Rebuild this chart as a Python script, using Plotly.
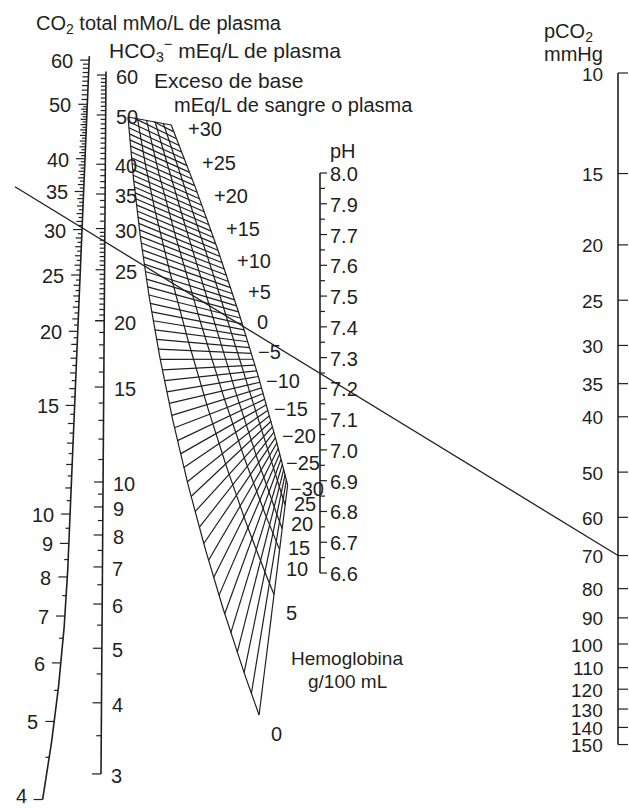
import numpy as np
import plotly.graph_objects as go

# ---------------- data ----------------
co2_total_labels = [60, 50, 40, 35, 30, 25, 20, 15, 10, 9, 8, 7, 6, 5, 4]
hco3_labels = [60, 50, 40, 35, 30, 25, 20, 15, 10, 9, 8, 7, 6, 5, 4, 3]
ph_labels = ["8.0", "7.9", "7.7", "7.6", "7.5", "7.4", "7.3", "7.2", "7.1",
             "7.0", "6.9", "6.8", "6.7", "6.6"]
pco2_labels = [10, 15, 20, 25, 30, 35, 40, 50, 60, 70, 80, 90, 100, 110,
               120, 130, 140, 150]
be_labels = [30, 25, 20, 15, 10, 5, 0, -5, -10, -15, -20, -25, -30]
be_lines = list(range(30, -31, -1))
hb_labels = [0, 5, 10, 15, 20, 25]
sample_pco2 = 70      # mmHg
sample_hco3 = 28.3    # mEq/L

# ---------------- nomogram scales (value -> page position) ----------------
def y_co2(v):
    return 1020.4 - 543.3 * np.log10(v - 1.45)

def x_co2(y):
    return 90 - 0.042 * (y - 40) - 2.7e-4 * np.maximum(0, y - 560) ** 2

def y_hco3(v):
    L = np.log10(v)
    return 1053.2 - 598.3 * L + 27.1 * L ** 2

def x_hco3(y):
    return 106 - 5 * (y - 70) / 704

PCO2_X = 618
def y_pco2(v):
    return 73 + (np.log10(v) - 1) * 571

PH_X = 320
def y_ph(i):
    return 173 + i * 30.77

# base-excess grid: right boundary (Hb 25) and left boundary (Hb 0)
def yR(b):
    return 305 - 6.0 * b - 0.0144 * (b * b - 900)

def xR(y):
    return 170 + 0.401 * (y - 122) - 2.12e-4 * (y - 122) ** 2

def yL(b):
    p = (30 - b) / 60
    return 102 + 401.5 * p - 273.5 * p ** 2 + 485 * p ** 3

def xL(y):
    return 128 + 0.0745 * (y - 117) + 2.42e-4 * (y - 117) ** 2

hb_frac_top = {0: 0, 5: 0.2, 10: 0.4, 15: 0.6, 20: 0.8, 25: 1.0}
hb_frac_bot = {0: 0, 5: 0.524, 10: 0.719, 15: 0.810, 20: 0.913, 25: 1.0}

def hb_frac(h, b):
    w = ((30 - b) / 60) ** 1.5
    return hb_frac_top[h] + (hb_frac_bot[h] - hb_frac_top[h]) * w

def grid_pt(h, b):
    ly = yL(b); lx = xL(ly)
    ry = yR(b); rx = xR(ry)
    t = hb_frac(h, b)
    return lx + t * (rx - lx), ly + t * (ry - ly)

TL = (xL(117.0), 117.0)
TR = (xR(yR(30)), yR(30))

def f_top(x, y):
    return y - (TL[1] + (x - TL[0]) * (TR[1] - TL[1]) / (TR[0] - TL[0]))

def clip(xs, ys):
    ox, oy = [], []
    n = len(xs)
    for i in range(n):
        fi = f_top(xs[i], ys[i])
        if i > 0:
            fp = f_top(xs[i - 1], ys[i - 1])
            if (fp < 0) != (fi < 0):
                t = fp / (fp - fi)
                ox.append(xs[i - 1] + t * (xs[i] - xs[i - 1]))
                oy.append(ys[i - 1] + t * (ys[i] - ys[i - 1]))
        if fi >= 0:
            ox.append(xs[i]); oy.append(ys[i])
    return ox, oy

# ---------------- build line geometry ----------------
thin_x, thin_y = [], []
axis_x, axis_y = [], []

def add(lst_x, lst_y, xs, ys):
    lst_x.extend(list(xs) + [None])
    lst_y.extend(list(ys) + [None])

# CO2 total (curved scale)
vv = np.geomspace(4, 61, 300)
yy = y_co2(vv)
add(axis_x, axis_y, x_co2(yy), yy)
co2_minor = [v for v in np.arange(4, 60.01, 0.5) if (v <= 50 or v == int(v))]
for v in co2_minor:
    y = y_co2(v); x = x_co2(y)
    if v in co2_total_labels:
        ln = 9
    elif v == int(v):
        ln = 6
    else:
        ln = 4
    add(thin_x, thin_y, [x - ln, x], [y, y])

# HCO3 (straight scale)
y_top, y_bot = y_hco3(61), y_hco3(3)
add(axis_x, axis_y, [x_hco3(y_top), x_hco3(y_bot)], [y_top, y_bot])
hco3_minor = ([v for v in np.arange(3, 10, 0.5)] + list(range(10, 21))
              + [v for v in np.arange(20, 30, 0.5)] + list(range(30, 61)))
for v in hco3_minor:
    y = y_hco3(v); x = x_hco3(y)
    ln = 9 if v in hco3_labels else 5
    add(thin_x, thin_y, [x - ln, x], [y, y])

# pH scale
add(axis_x, axis_y, [PH_X, PH_X], [y_ph(0), y_ph(len(ph_labels) - 1)])
for i in range(len(ph_labels)):
    add(thin_x, thin_y, [PH_X, PH_X + 7], [y_ph(i), y_ph(i)])
    if i < len(ph_labels) - 1:
        add(thin_x, thin_y, [PH_X, PH_X + 5], [y_ph(i + 0.5), y_ph(i + 0.5)])

# pCO2 scale
add(axis_x, axis_y, [PCO2_X, PCO2_X], [y_pco2(10), y_pco2(150)])
for v in pco2_labels:
    add(thin_x, thin_y, [PCO2_X, PCO2_X + 10], [y_pco2(v), y_pco2(v)])

# base-excess lines
for b in be_lines:
    ly = yL(b); ry = yR(b)
    xs, ys = clip([xL(ly), xR(ry)], [ly, ry])
    add(thin_x, thin_y, xs, ys)
# haemoglobin curves
bb = np.linspace(30, -30, 121)
for h in hb_labels:
    pts = [grid_pt(h, b) for b in bb]
    xs, ys = clip([p[0] for p in pts], [p[1] for p in pts])
    add(thin_x, thin_y, xs, ys)
# top edge
add(thin_x, thin_y, [TL[0], TR[0]], [TL[1], TR[1]])

# sample alignment line: pCO2 -> HCO3 and beyond
p1 = (PCO2_X, y_pco2(sample_pco2))
yh = y_hco3(sample_hco3)
p2 = (x_hco3(yh), yh)
slope = (p1[1] - p2[1]) / (p1[0] - p2[0])
x_start = 15
sample_x = [x_start, p1[0]]
sample_y = [p2[1] + (x_start - p2[0]) * slope, p1[1]]

fig = go.Figure()
fig.add_trace(go.Scatter(x=thin_x, y=thin_y, mode="lines",
                         line=dict(color="#231f20", width=1.2),
                         hoverinfo="skip", showlegend=False))
fig.add_trace(go.Scatter(x=axis_x, y=axis_y, mode="lines",
                         line=dict(color="#231f20", width=1.6),
                         hoverinfo="skip", showlegend=False))
fig.add_trace(go.Scatter(x=sample_x, y=sample_y, mode="lines",
                         line=dict(color="#231f20", width=1.3),
                         hoverinfo="skip", showlegend=False))

FONT = dict(family="Liberation Sans, Arial, sans-serif", size=20, color="#231f20")
ann = []

def txt(x, y, s, xa="left", ya="middle", size=None):
    f = dict(FONT)
    if size:
        f["size"] = size
    ann.append(dict(x=x, y=y, text=s, xref="x", yref="y", showarrow=False,
                    xanchor=xa, yanchor=ya, font=f))

for v in co2_total_labels:
    y = y_co2(v)
    txt(x_co2(y) - 14, min(y + 1, 796), str(v), xa="right")
for v in hco3_labels:
    y = y_hco3(v)
    txt(x_hco3(y) + 8, y + 2, str(v), xa="left")
for i, s in enumerate(ph_labels):
    txt(PH_X + 8, y_ph(i) + 1, s, xa="left")
for v in pco2_labels:
    txt(PCO2_X - 13, y_pco2(v) + 1, str(v), xa="right", size=19)
for b in be_labels:
    ry = yR(b); rx = xR(ry)
    dx = 15 if b >= 0 else min(6, (b + 30) * 0.6)
    s = ("+%d" % b) if b > 0 else ("0" if b == 0 else "\u2212%d" % (-b))
    txt(rx + dx, ry + 4, s, xa="left")
for h in hb_labels:
    x, y = grid_pt(h, -30)
    txt(x + 17, y + 19, str(h), xa="center")

txt(34, 24, "CO<sub>2</sub> total mMo/L de plasma")
txt(107, 50, "HCO<sub>3</sub><sup>\u2212</sup> mEq/L de plasma", size=21)
txt(152, 80, "Exceso de base", size=21)
txt(172, 105, "mEq/L de sangre o plasma")
txt(328, 151, "pH")
txt(542, 32, "pCO<sub>2</sub>")
txt(605, 54, "mmHg", xa="right")
txt(347, 658, "Hemoglobina", xa="center", size=19)
txt(347, 681, "g/100 mL", xa="center", size=19)

fig.update_layout(
    width=629, height=808, margin=dict(l=0, r=0, t=0, b=0),
    paper_bgcolor="white", plot_bgcolor="white",
    xaxis=dict(range=[0, 629], visible=False, fixedrange=True),
    yaxis=dict(range=[808, 0], visible=False, fixedrange=True),
    annotations=ann, showlegend=False,
)
fig.write_html("out.html", config={"displayModeBar": False},
               post_script="document.body.style.margin='0';")
